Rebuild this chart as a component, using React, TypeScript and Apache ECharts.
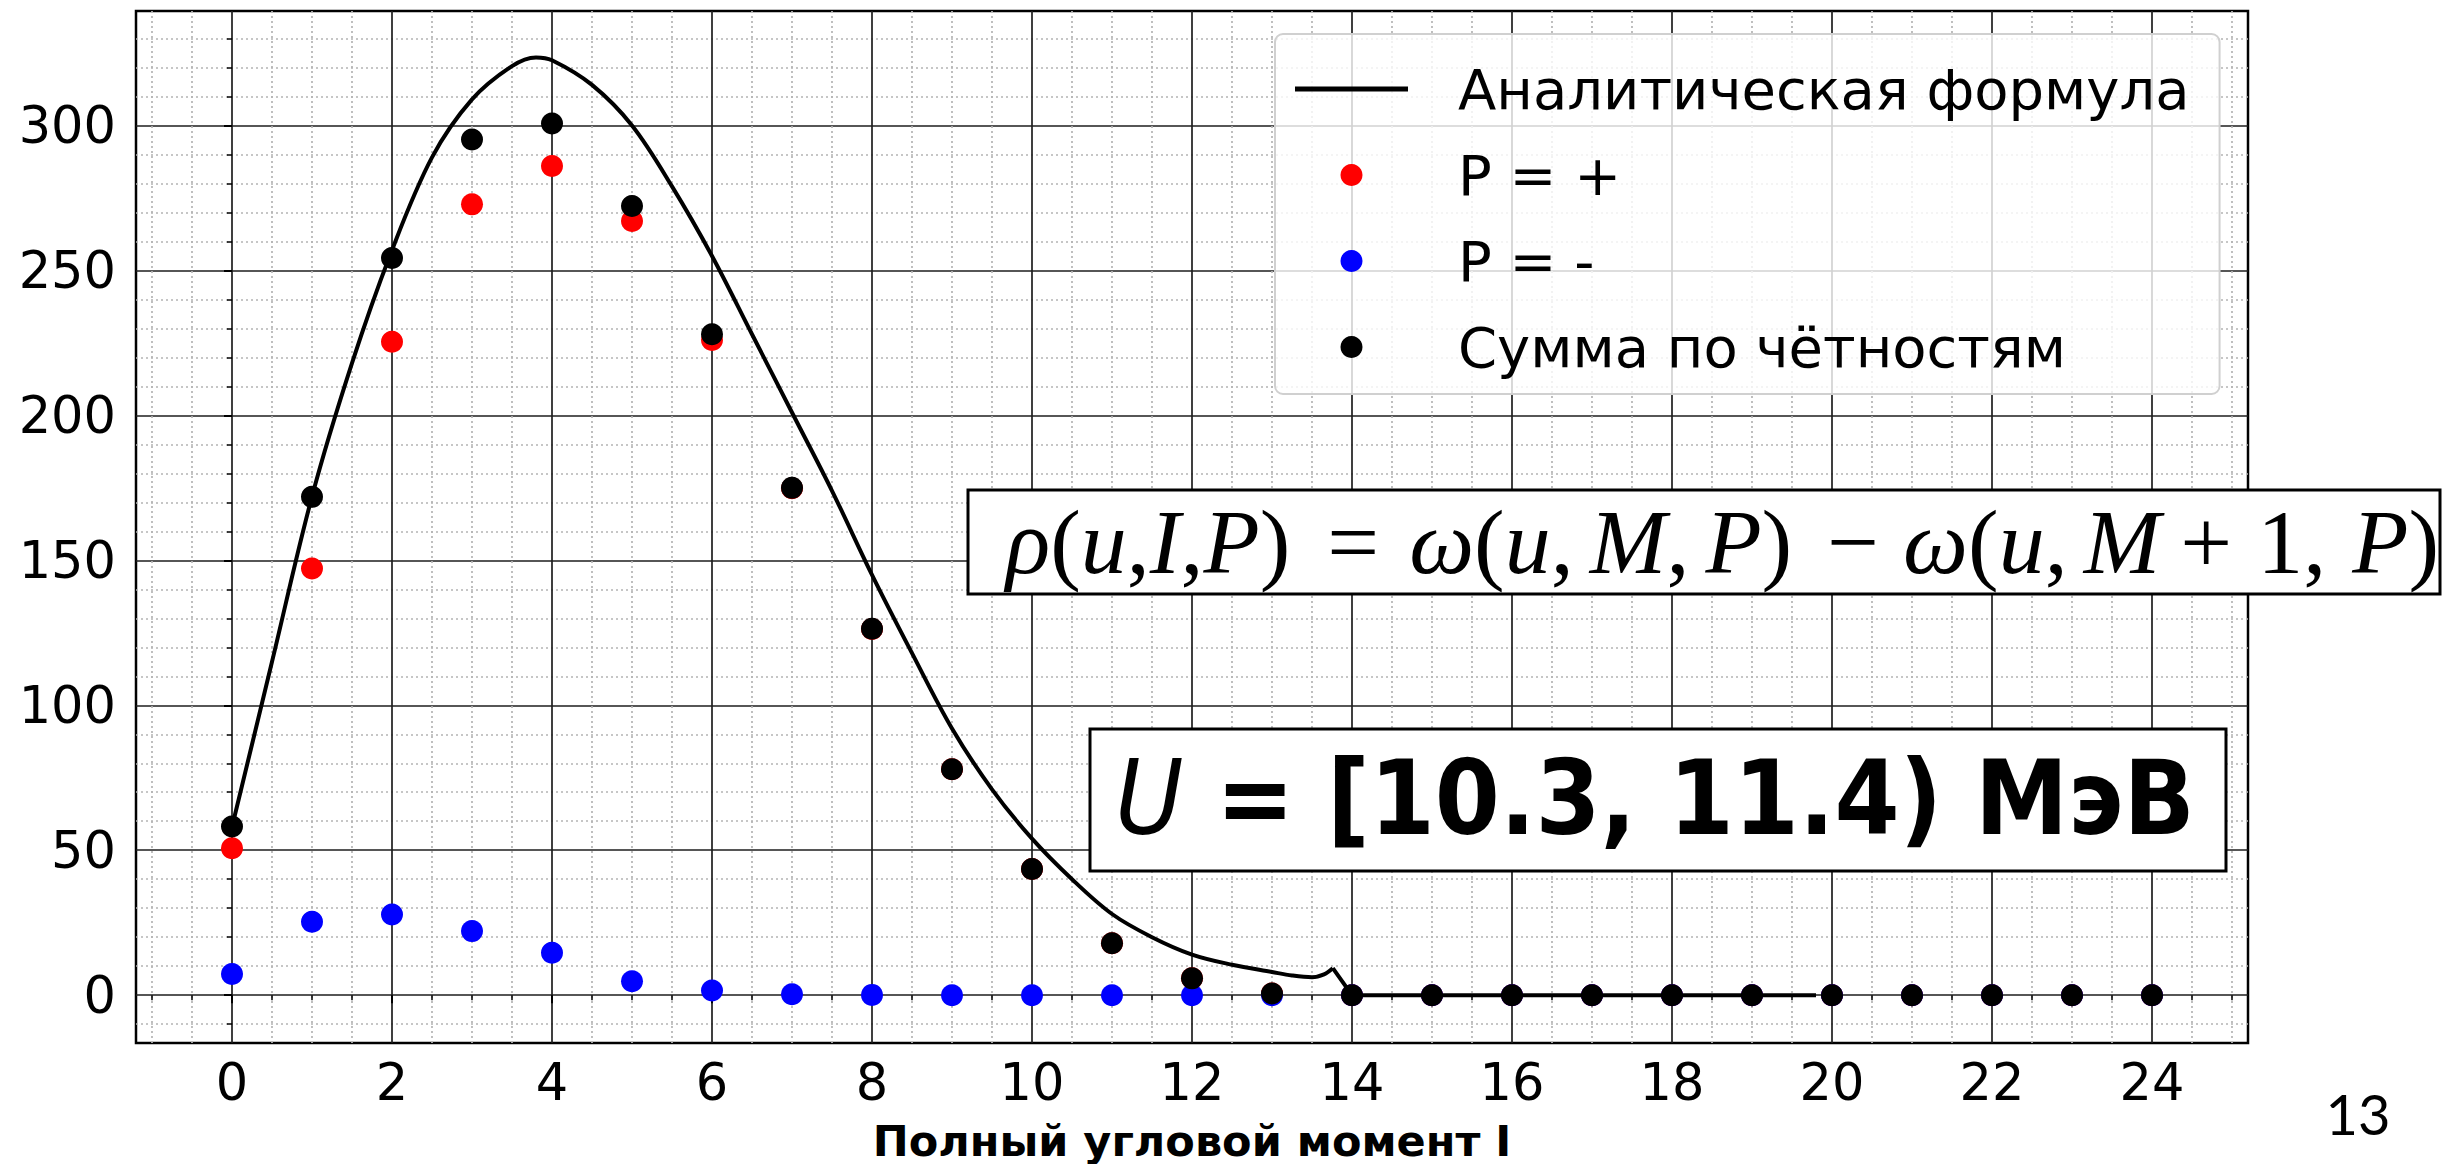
import React, { useEffect, useRef } from "react";
import * as echarts from "echarts";

// Total angular momentum I (x values of the points)
const momentI = [0, 1, 2, 3, 4, 5, 6, 7, 8, 9, 10, 11, 12, 13, 14, 15, 16, 17, 18, 19, 20, 21, 22, 23, 24];
// Level density for positive parity
const parityPlus = [50.7, 147.2, 225.4, 272.8, 286.0, 267.1, 226.0, 174.9, 126.3, 77.9, 43.5, 17.9, 5.8, 0.6, 0, 0, 0, 0, 0, 0, 0, 0, 0, 0, 0];
// Level density for negative parity
const parityMinus = [7.3, 25.3, 27.8, 22.1, 14.6, 4.8, 1.6, 0.3, 0.1, 0, 0, 0, 0, 0, 0, 0, 0, 0, 0, 0, 0, 0, 0, 0, 0];
// Sum over both parities
const paritySum = [58.2, 171.9, 254.3, 295.2, 300.7, 272.2, 228.0, 175.0, 126.4, 77.9, 43.5, 17.9, 5.8, 0.6, 0, 0, 0, 0, 0, 0, 0, 0, 0, 0, 0];

// Analytic formula curve: smooth part
const formulaI = [0, 0.5, 1, 1.5, 2, 2.5, 3, 3.5, 3.8, 4, 4.5, 5, 5.5, 6, 6.5, 7, 7.5, 8, 8.5, 9, 9.5, 10, 10.5, 11, 11.5, 12, 12.5, 13, 13.25, 13.5, 13.65, 13.76];
const formulaRho = [58, 115, 172, 218, 257, 289, 309, 320.5, 323.5, 322.5, 314, 300, 279, 255, 228, 201, 174, 145, 118, 92, 71, 54, 40, 28, 20, 14, 10.5, 8, 6.8, 6.2, 7.2, 9.3];
// Analytic formula curve: cut-off and flat tail
const tailI = [13.76, 14, 19.8];
const tailRho = [9.3, 0, 0];

const xTicks = [0, 2, 4, 6, 8, 10, 12, 14, 16, 18, 20, 22, 24];
const yTicks = [0, 50, 100, 150, 200, 250, 300];

const seriesNames = ["Аналитическая формула", "P = +", "P = -", "Сумма по чётностям"];
const xAxisTitle = "Полный угловой момент I";
const energyLabel = " = [10.3, 11.4) МэВ";
const slideNumber = "13";

const W = 2453;
const H = 1164;

const tickFont = "DejaVu Sans";
const mathFont = "Liberation Serif";
const boxFont = "'DejaVu Sans Condensed', 'DejaVu Sans'";

function zip(xs: number[], ys: number[]) {
  return xs.map((x, i) => [x, ys[i]]);
}

function axisCommon(ticks: number[], minorSplit: number, labelMargin: number) {
  return {
    type: "value" as const,
    axisLine: { show: false },
    axisTick: {
      show: true,
      inside: false,
      length: 8,
      customValues: ticks,
      lineStyle: { color: "#000", width: 2 },
    },
    minorTick: {
      show: true,
      splitNumber: minorSplit,
      length: 5,
      lineStyle: { color: "#000", width: 1.5 },
    },
    axisLabel: {
      customValues: ticks,
      margin: labelMargin,
      fontFamily: tickFont,
      fontSize: 51,
      color: "#000",
    },
    splitLine: { show: true, lineStyle: { color: "#1e1e1e", width: 1.7 } },
    minorSplitLine: { show: true, lineStyle: { color: "#b4b4b4", width: 1.7, type: [2, 3] } },
  };
}

export default function App() {
  const ref = useRef<HTMLDivElement>(null);

  useEffect(() => {
    document.body.style.margin = "0";
    if (!ref.current) return;
    const chart = echarts.init(ref.current, null, { renderer: "svg", width: W, height: H });

    const fs = 92;
    const it = { fontFamily: mathFont, fontStyle: "italic", fontSize: fs, fill: "#000" };
    const up = { fontFamily: mathFont, fontSize: fs, fill: "#000" };
    const mathRich = {
      i: it,
      n: up,
      eq: { ...up, padding: [0, 30, 0, 37] },
      mi: { ...up, padding: [0, 24, 0, 35] },
      pl: { ...up, padding: [0, 25, 0, 20] },
      c: { ...up, padding: [0, 16, 0, 0] },
      c2: { ...up, padding: [0, 26, 0, 0] },
    };
    const formulaText =
      "{i|ρ}{n|(}{i|u}{n|,}{i|I}{n|,}{i|P}{n|)}{eq|=}{i|ω}{n|(}{i|u}{c|,}{i|M}{c|,}{i|P}{n|)}{mi|−}{i|ω}{n|(}{i|u}{c|,}{i|M}{pl|+}{n|1}{c2|,}{i|P}{n|)}";

    chart.setOption({
      animation: false,
      backgroundColor: "#fff",
      grid: {
        left: 136,
        top: 11,
        width: 2112,
        height: 1032,
        containLabel: false,
        outerBoundsMode: "none",
        show: true,
        borderColor: "#000",
        borderWidth: 2.5,
        backgroundColor: "transparent",
      },
      xAxis: {
        ...axisCommon(xTicks, 4, 14),
        min: -1.2,
        max: 25.2,
        minInterval: 2,
        maxInterval: 2,
        splitNumber: 13,
        name: xAxisTitle,
        nameLocation: "middle",
        nameGap: 76,
        nameTextStyle: { fontFamily: tickFont, fontWeight: "bold", fontSize: 43, color: "#000" },
      },
      yAxis: {
        ...axisCommon(yTicks, 5, 20),
        min: -16.5,
        max: 339.5,
        minInterval: 50,
        maxInterval: 50,
        splitNumber: 7,
      },
      legend: {
        orient: "vertical",
        left: 1275,
        top: 34,
        padding: [25, 30, 17, 20],
        itemWidth: 113,
        itemHeight: 22,
        itemGap: 26,
        selectedMode: false,
        backgroundColor: "rgba(255,255,255,0.8)",
        borderColor: "#d0d0d0",
        borderWidth: 2,
        borderRadius: 8,
        textStyle: {
          fontFamily: tickFont,
          fontSize: 56,
          color: "#000",
          lineHeight: 60,
          padding: [0, 0, 0, 45],
        },
        data: [
          { name: seriesNames[0], icon: "path://M0 0H113V5H0Z" },
          { name: seriesNames[1], icon: "circle" },
          { name: seriesNames[2], icon: "circle" },
          { name: seriesNames[3], icon: "circle" },
        ],
      },
      series: [
        {
          name: seriesNames[0],
          type: "line",
          data: zip(formulaI, formulaRho),
          symbol: "none",
          showSymbol: false,
          smooth: 0.35,
          lineStyle: { color: "#000", width: 4 },
          itemStyle: { color: "#000" },
          z: 4,
        },
        {
          name: seriesNames[0],
          type: "line",
          data: zip(tailI, tailRho),
          symbol: "none",
          showSymbol: false,
          lineStyle: { color: "#000", width: 4 },
          itemStyle: { color: "#000" },
          z: 4,
        },
        {
          name: seriesNames[1],
          type: "scatter",
          data: zip(momentI, parityPlus),
          symbolSize: 22,
          itemStyle: { color: "#ff0000", opacity: 1 },
          z: 2,
        },
        {
          name: seriesNames[2],
          type: "scatter",
          data: zip(momentI, parityMinus),
          symbolSize: 22,
          itemStyle: { color: "#0000ff", opacity: 1 },
          z: 2,
        },
        {
          name: seriesNames[3],
          type: "scatter",
          data: zip(momentI, paritySum),
          symbolSize: 22,
          itemStyle: { color: "#000", opacity: 1 },
          z: 3,
        },
      ],
      graphic: [
        {
          type: "rect",
          z: 100,
          shape: { x: 968, y: 490, width: 1472, height: 104 },
          style: { fill: "#fff", stroke: "#000", lineWidth: 3 },
        },
        {
          type: "text",
          z: 101,
          x: 1006,
          y: 542,
          style: {
            text: formulaText,
            rich: mathRich,
            verticalAlign: "middle",
            align: "left",
            fill: "#000",
          },
        },
        {
          type: "rect",
          z: 100,
          shape: { x: 1090, y: 729, width: 1136, height: 142 },
          style: { fill: "#fff", stroke: "#000", lineWidth: 3 },
        },
        {
          type: "text",
          z: 101,
          x: 1115,
          y: 798,
          style: {
            text: "{u|U}{b|" + energyLabel + "}",
            rich: {
              u: { fontFamily: boxFont, fontStyle: "italic", fontSize: 104, fill: "#000" },
              b: { fontFamily: boxFont, fontWeight: "bold", fontSize: 104, fill: "#000" },
            },
            verticalAlign: "middle",
            align: "left",
            fill: "#000",
          },
        },
        {
          type: "text",
          x: 2358,
          y: 1113,
          style: {
            text: slideNumber,
            font: "56px Lato",
            align: "center",
            verticalAlign: "middle",
            fill: "#000",
          },
        },
      ],
    });

    return () => chart.dispose();
  }, []);

  return <div ref={ref} style={{ width: W, height: H }} />;
}
